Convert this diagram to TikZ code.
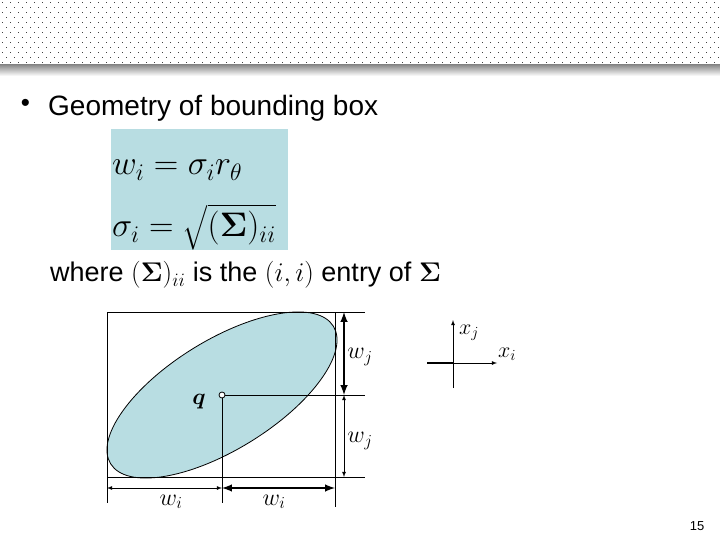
\RequirePackage{fix-cm}
\documentclass[tikz,border=0pt]{standalone}
\usepackage{amsmath}
\usepackage{fontspec}
\setmainfont{Liberation Sans}
\definecolor{boxblue}{RGB}{184,221,226}
\begin{document}
\begin{tikzpicture}[x=1bp,y=-1bp,>=latex,line join=bevel,
  thinline/.style={line width=0.8bp},
  thickline/.style={line width=2.4bp},
  lbl/.style={inner sep=0pt,font=\fontsize{24bp}{28bp}\selectfont},
  axlbl/.style={inner sep=0pt,font=\fontsize{22bp}{26bp}\selectfont},
  txt/.style={anchor=base west,inner sep=0pt,font=\fontsize{28bp}{34bp}\selectfont},
  eq/.style={anchor=base west,inner sep=0pt,font=\fontsize{34bp}{40bp}\selectfont},
  ]
%%
\useasboundingbox (0,0) rectangle (720,540);
\foreach \r in {0,...,12}
  \foreach \c in {0,...,90}
    \fill[black!75] ({\c*8+mod(\r,2)*4+2},{\r*5+2}) rectangle ++(1.2,1.2);
\shade[top color=black!45,bottom color=white] (0,65) rectangle (720,76);
%
\node (bullet) at (25.5,105.5) [inner sep=0pt,font=\fontsize{26bp}{30bp}\selectfont] {\textbullet};
\node (title) at (48,116) [txt] {Geometry of bounding box};
\node (eqbox) at (111,129) [anchor=north west,fill=boxblue,inner sep=0pt,minimum width=177bp,minimum height=121bp] {};
\node (eqw) at (112,175) [eq] {$w_i=\sigma_i r_\theta$};
\node (eqs) at (112,237) [eq] {$\sigma_i=\sqrt{(\boldsymbol{\Sigma})_{ii}}$};
\node (where) at (50,282) [txt,font=\fontsize{27bp}{32bp}\selectfont] {where $(\boldsymbol{\Sigma})_{ii}$ is the $(i,i)$ entry of $\boldsymbol{\Sigma}$};
%
\coordinate (q) at (222,395);
\draw [thinline,fill=boxblue,rotate around={31.7:(q)}] (q) ellipse [x radius=130.9bp,y radius=54.7bp];
\coordinate (tl) at (107,312);
\coordinate (tr) at (365,312);
\coordinate (ml) at (225,395);
\coordinate (mr) at (365,395);
\coordinate (bl) at (107,477);
\coordinate (br) at (365,477);
\coordinate (lt) at (107,312);
\coordinate (lb) at (107,503);
\coordinate (qb) at (222,503);
\coordinate (rt) at (335,312);
\coordinate (rb) at (335,507);
\draw [thinline] (tl) -- (tr);
\draw [thinline] (ml) -- (mr);
\draw [thinline] (bl) -- (br);
\draw [thinline] (lt) -- (lb);
\draw [thinline] (q) -- (qb);
\draw [thinline] (rt) -- (rb);
\node (qdot) at (q) [circle,draw,thinline,fill=white,inner sep=0pt,minimum size=6bp] {};
\node (qlbl) at (199,402) [inner sep=0pt,font=\fontsize{23bp}{27bp}\selectfont] {$\boldsymbol{q}$};
%
\coordinate (vj1) at (344,312);
\coordinate (vj2) at (344,395);
\coordinate (vj3) at (344,477);
\coordinate (hi1) at (107,488);
\coordinate (hi2) at (222,488);
\coordinate (hi3) at (335,488);
\draw [<->,thickline] (vj1) -- (vj2);
\draw [<->,thinline] (vj2) -- (vj3);
\draw [<->,thinline] (hi1) -- (hi2);
\draw [<->,thickline] (hi2) -- (hi3);
\node (wj1) at (360,357) [lbl] {$w_j$};
\node (wj2) at (360,441) [lbl] {$w_j$};
\node (wi1) at (171,502) [lbl] {$w_i$};
\node (wi2) at (274,502) [lbl] {$w_i$};
%
\coordinate (o) at (453,363);
\coordinate (yb) at (453,388);
\coordinate (yt) at (453,320);
\coordinate (xl) at (427,363);
\coordinate (xr) at (497,363);
\draw [->,thinline] (yb) -- (yt);
\draw [->,thinline] (o) -- (xr);
\draw [thickline] (xl) -- (o);
\node (xj) at (469,333) [axlbl] {$x_j$};
\node (xi) at (507,354) [axlbl] {$x_i$};
%
\node (pgno) at (697,526) [inner sep=0pt,font=\fontsize{13bp}{15bp}\selectfont] {15};
%
\end{tikzpicture}
\end{document}
